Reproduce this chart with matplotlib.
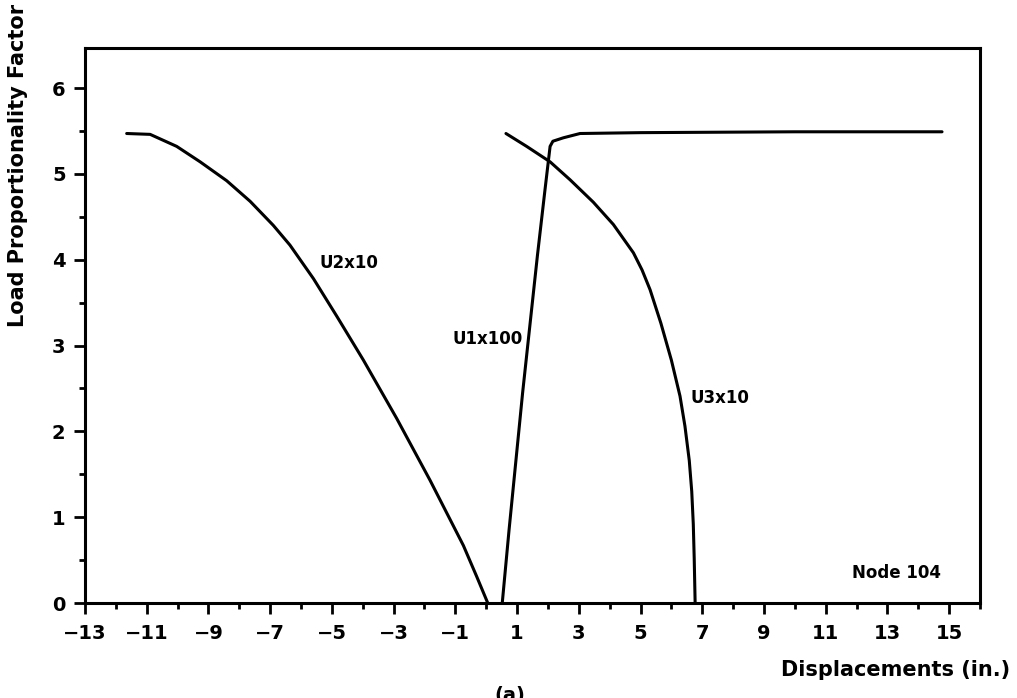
import numpy as np
import matplotlib
matplotlib.use('Agg')
import matplotlib.pyplot as plt
from matplotlib.ticker import MultipleLocator

# load proportionality factor vs scaled displacements at node 104
u2_x = [-11.65, -10.89, -10.03, -9.27, -8.41, -7.65, -6.90, -6.36, -5.60, -4.84,
        -3.98, -2.90, -1.82, -0.74, -0.31, 0.05]
u2_y = [5.47, 5.46, 5.32, 5.14, 4.92, 4.68, 4.40, 4.17, 3.78, 3.34,
        2.83, 2.15, 1.43, 0.67, 0.31, 0.0]

u1_x = [0.52, 0.74, 0.96, 1.18, 1.42, 1.66, 1.90, 2.07, 2.16, 2.50, 3.04,
        5.0, 10.0, 14.77]
u1_y = [0.0, 0.85, 1.65, 2.45, 3.25, 4.05, 4.80, 5.32, 5.38, 5.42, 5.47,
        5.48, 5.49, 5.49]

u3_x = [0.64, 1.31, 2.07, 2.72, 3.47, 4.12, 4.77, 5.05, 5.31, 5.66, 6.00, 6.28, 6.44,
        6.58, 6.66, 6.71, 6.74, 6.77]
u3_y = [5.47, 5.32, 5.14, 4.93, 4.67, 4.41, 4.08, 3.88, 3.65, 3.26, 2.83, 2.41, 2.06,
        1.66, 1.30, 0.92, 0.52, 0.0]

xticks = np.arange(-13, 16, 2)
yticks = np.arange(0, 7, 1)

plt.rcParams['font.family'] = 'DejaVu Sans'
plt.rcParams['font.weight'] = 'bold'

fig = plt.figure(figsize=(10.17, 6.98), dpi=100)
ax = fig.add_axes([0.0836, 0.1361, 0.88, 0.7956])

lw = 2.2
for xs, ys in [(u2_x, u2_y), (u1_x, u1_y), (u3_x, u3_y)]:
    ax.plot(xs, ys, color='black', lw=lw, solid_capstyle='round', solid_joinstyle='round')

ax.set_xlim(-13, 16)
ax.set_ylim(0, 6.47)
ax.set_xticks(xticks)
ax.set_xticklabels([str(t).replace('-', '\u2212') for t in xticks])
ax.set_yticks(yticks)
ax.xaxis.set_minor_locator(MultipleLocator(1))
ax.yaxis.set_minor_locator(MultipleLocator(0.5))
ax.tick_params(which='major', direction='out', length=8, width=2, labelsize=14)
ax.tick_params(axis='x', which='major', pad=7)
ax.tick_params(axis='y', which='major', pad=6)
ax.tick_params(which='minor', direction='out', length=4, width=2)
for s in ax.spines.values():
    s.set_linewidth(2.2)

ax.text(-4.46, 3.96, 'U2x10', fontsize=12, fontweight='bold', ha='center', va='center')
ax.text(0.06, 3.08, 'U1x100', fontsize=12, fontweight='bold', ha='center', va='center')
ax.text(7.58, 2.39, 'U3x10', fontsize=12, fontweight='bold', ha='center', va='center')
ax.text(13.31, 0.35, 'Node 104', fontsize=12, fontweight='bold', ha='center', va='center')

fig.text(18 / 1017, 1 - 327 / 698, 'Load Proportionality Factor', rotation=90,
         fontsize=15, fontweight='bold', ha='center', va='bottom')
fig.text(1010 / 1017, 1 - 670 / 698, 'Displacements (in.)',
         fontsize=15, fontweight='bold', ha='right', va='center')
fig.text(510 / 1017, 1 - 686 / 698, '(a)', fontsize=14, fontweight='bold',
         ha='center', va='top')

fig.savefig('out.png', dpi=100)
